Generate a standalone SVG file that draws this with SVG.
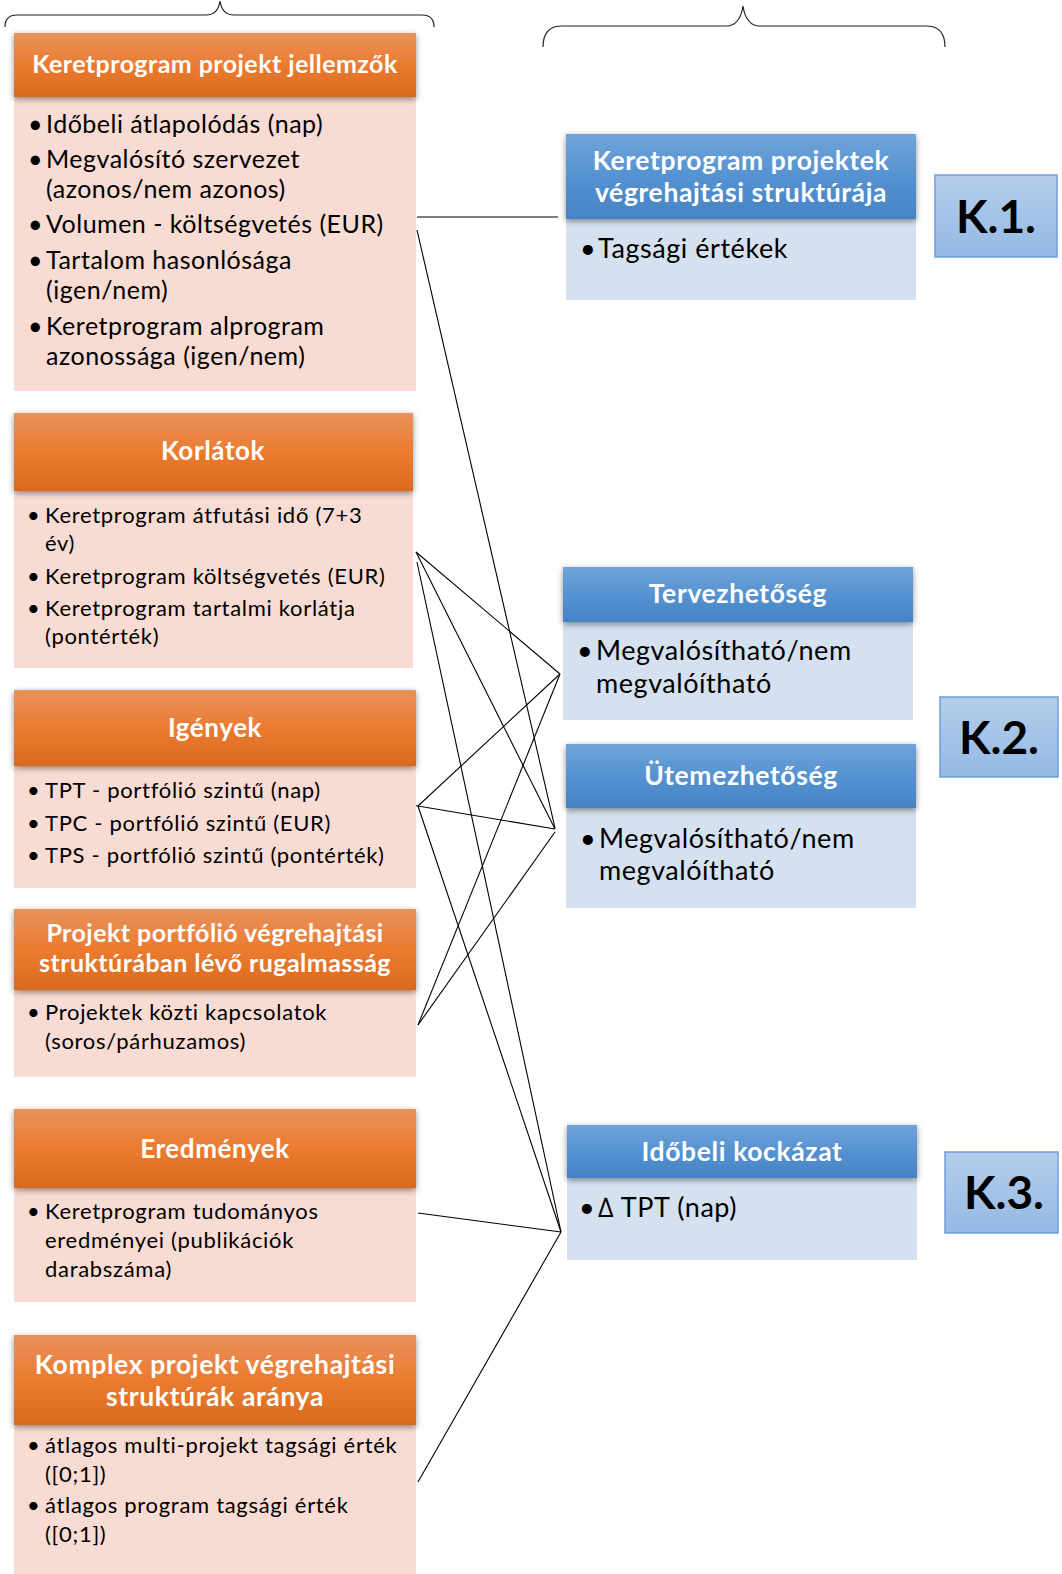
<svg xmlns="http://www.w3.org/2000/svg" width="1062" height="1574" viewBox="0 0 1062 1574">
  <defs>
    <linearGradient id="orangeHead" x1="0" y1="0" x2="0" y2="1">
      <stop offset="0" stop-color="#E8925C"/>
      <stop offset="0.5" stop-color="#EB7B30"/>
      <stop offset="1" stop-color="#D96A1E"/>
    </linearGradient>
    <linearGradient id="blueHead" x1="0" y1="0" x2="0" y2="1">
      <stop offset="0" stop-color="#70A4D9"/>
      <stop offset="0.5" stop-color="#5592D1"/>
      <stop offset="1" stop-color="#4683C2"/>
    </linearGradient>
    <linearGradient id="kFill" x1="0" y1="0" x2="0" y2="1">
      <stop offset="0" stop-color="#B5CEEB"/>
      <stop offset="1" stop-color="#94B9E4"/>
    </linearGradient>
    <filter id="shadow" x="-10%" y="-20%" width="120%" height="150%">
      <feGaussianBlur in="SourceAlpha" stdDeviation="3"/>
      <feOffset dx="0" dy="2" result="b"/>
      <feComponentTransfer><feFuncA type="linear" slope="0.45"/></feComponentTransfer>
      <feMerge><feMergeNode/><feMergeNode in="SourceGraphic"/></feMerge>
    </filter>
  </defs>
  <style>
    .obody { fill: #F8DBD2; }
    .bbody { fill: #D5E1EF; }
    .ohead { fill: url(#orangeHead); filter: url(#shadow); }
    .bhead { fill: url(#blueHead); filter: url(#shadow); }
    .kbox { fill: url(#kFill); stroke: #6F9FD8; stroke-width: 1.5; }
    .htxt { font-family: Lato, "Open Sans", sans-serif; font-weight: bold; fill: #FFFFFF; text-anchor: middle; }
    .h24 { font-size: 25px; letter-spacing: 0.45px; }
    .h25 { font-size: 26px; letter-spacing: 0.6px; }
    .h26 { font-size: 26.5px; letter-spacing: 0.62px; }
    .t24 { font-family: Lato, "Open Sans", sans-serif; font-size: 25px; letter-spacing: 0.5px; fill: #000000; }
    .t21 { font-family: Lato, "Open Sans", sans-serif; font-size: 22px; letter-spacing: 0.7px; fill: #000000; }
    .t26 { font-family: Lato, "Open Sans", sans-serif; font-size: 27px; letter-spacing: 0.55px; fill: #000000; }
    .ktxt { font-family: Lato, "Open Sans", sans-serif; font-weight: bold; font-size: 46px; fill: #000000; text-anchor: middle; }
    .brace { fill: none; stroke: #222222; stroke-width: 1.2; }
    .conn line { stroke: #000000; stroke-width: 1.1; }
  </style>

  <rect width="1062" height="1574" fill="#FFFFFF"/>

  <!-- group braces -->
  <g id="braces">
    <path class="brace" d="M5,27 Q5,15 17,15 L206,15 Q218,15 220,1 Q222,15 234,15 L422,15 Q434,15 434,27"/>
    <path class="brace" d="M543,47 Q543,26 562,26 L726,26 Q740,26 743,6 Q746,26 760,26 L926,26 Q945,26 945,47"/>
  </g>

  <!-- connectors -->
  <g id="connectors" class="conn">
    <line x1="417" y1="217" x2="558" y2="217"/>
    <line x1="417" y1="230" x2="555" y2="828"/>
    <line x1="416" y1="552" x2="560" y2="674"/>
    <line x1="416" y1="552" x2="555" y2="829"/>
    <line x1="417" y1="562" x2="561" y2="1232"/>
    <line x1="560" y1="674" x2="418" y2="806"/>
    <line x1="560" y1="674" x2="418" y2="1025"/>
    <line x1="412" y1="805" x2="555" y2="829"/>
    <line x1="418" y1="806" x2="561" y2="1232"/>
    <line x1="555" y1="832" x2="418" y2="1025"/>
    <line x1="418" y1="1213" x2="561" y2="1232"/>
    <line x1="418" y1="1482" x2="561" y2="1232"/>
  </g>

  <!-- left column -->
  <g id="node-jellemzok">
    <rect class="obody" x="14" y="97" width="402" height="294"/>
    <rect class="ohead" x="14" y="33" width="402" height="64"/>
    <text class="htxt h24" x="215" y="73">Keretprogram projekt jellemzők</text>
    <text class="t24" x="28" y="133">•</text><text class="t24" x="46" y="133">Időbeli átlapolódás (nap)</text>
    <text class="t24" x="28" y="168">•</text><text class="t24" x="46" y="168">Megvalósító szervezet</text>
    <text class="t24" x="46" y="198">(azonos/nem azonos)</text>
    <text class="t24" x="28" y="233">•</text><text class="t24" x="46" y="233">Volumen - költségvetés (EUR)</text>
    <text class="t24" x="28" y="269">•</text><text class="t24" x="46" y="269">Tartalom hasonlósága</text>
    <text class="t24" x="46" y="299">(igen/nem)</text>
    <text class="t24" x="28" y="335">•</text><text class="t24" x="46" y="335">Keretprogram alprogram</text>
    <text class="t24" x="46" y="365">azonossága (igen/nem)</text>
  </g>

  <g id="node-korlatok">
    <rect class="obody" x="14" y="491" width="399" height="177"/>
    <rect class="ohead" x="14" y="413" width="399" height="78"/>
    <text class="htxt h25" x="213" y="460">Korlátok</text>
    <text class="t21" x="27" y="523">•</text><text class="t21" x="45" y="523">Keretprogram átfutási idő (7+3</text>
    <text class="t21" x="45" y="551">év)</text>
    <text class="t21" x="27" y="584">•</text><text class="t21" x="45" y="584">Keretprogram költségvetés (EUR)</text>
    <text class="t21" x="27" y="616">•</text><text class="t21" x="45" y="616">Keretprogram tartalmi korlátja</text>
    <text class="t21" x="45" y="644">(pontérték)</text>
  </g>

  <g id="node-igenyek">
    <rect class="obody" x="14" y="766" width="402" height="122"/>
    <rect class="ohead" x="14" y="690" width="402" height="76"/>
    <text class="htxt h25" x="215" y="737">Igények</text>
    <text class="t21" x="27" y="798">•</text><text class="t21" x="45" y="798">TPT - portfólió szintű (nap)</text>
    <text class="t21" x="27" y="831">•</text><text class="t21" x="45" y="831">TPC - portfólió szintű (EUR)</text>
    <text class="t21" x="27" y="863">•</text><text class="t21" x="45" y="863">TPS - portfólió szintű (pontérték)</text>
  </g>

  <g id="node-rugalmassag">
    <rect class="obody" x="14" y="990" width="402" height="87"/>
    <rect class="ohead" x="14" y="909" width="402" height="81"/>
    <text class="htxt h24" x="215" y="942">Projekt portfólió végrehajtási</text>
    <text class="htxt h24" x="215" y="972">struktúrában lévő rugalmasság</text>
    <text class="t21" x="27" y="1020">•</text><text class="t21" x="45" y="1020">Projektek közti kapcsolatok</text>
    <text class="t21" x="45" y="1049">(soros/párhuzamos)</text>
  </g>

  <g id="node-eredmenyek">
    <rect class="obody" x="14" y="1188" width="402" height="114"/>
    <rect class="ohead" x="14" y="1109" width="402" height="79"/>
    <text class="htxt h25" x="215" y="1158">Eredmények</text>
    <text class="t21" x="27" y="1219">•</text><text class="t21" x="45" y="1219">Keretprogram tudományos</text>
    <text class="t21" x="45" y="1248">eredményei (publikációk</text>
    <text class="t21" x="45" y="1277">darabszáma)</text>
  </g>

  <g id="node-komplex">
    <rect class="obody" x="14" y="1425" width="402" height="149"/>
    <rect class="ohead" x="14" y="1335" width="402" height="90"/>
    <text class="htxt h26" x="215" y="1374">Komplex projekt végrehajtási</text>
    <text class="htxt h26" x="215" y="1406">struktúrák aránya</text>
    <text class="t21" x="27" y="1453">•</text><text class="t21" x="45" y="1453">átlagos multi-projekt tagsági érték</text>
    <text class="t21" x="45" y="1482">([0;1])</text>
    <text class="t21" x="27" y="1513">•</text><text class="t21" x="45" y="1513">átlagos program tagsági érték</text>
    <text class="t21" x="45" y="1542">([0;1])</text>
  </g>

  <!-- right column -->
  <g id="node-struktura">
    <rect class="bbody" x="566" y="219" width="350" height="81"/>
    <rect class="bhead" x="566" y="134" width="350" height="85"/>
    <text class="htxt h26" x="741" y="170">Keretprogram projektek</text>
    <text class="htxt h26" x="741" y="202">végrehajtási struktúrája</text>
    <text class="t26" x="580" y="258">•</text><text class="t26" x="598" y="258">Tagsági értékek</text>
  </g>

  <g id="node-tervezhetoseg">
    <rect class="bbody" x="563" y="622" width="350" height="98"/>
    <rect class="bhead" x="563" y="567" width="350" height="55"/>
    <text class="htxt h26" x="738" y="603">Tervezhetőség</text>
    <text class="t26" x="577" y="660">•</text><text class="t26" x="596" y="660">Megvalósítható/nem</text>
    <text class="t26" x="596" y="693">megvalóítható</text>
  </g>

  <g id="node-utemezhetoseg">
    <rect class="bbody" x="566" y="808" width="350" height="100"/>
    <rect class="bhead" x="566" y="744" width="350" height="64"/>
    <text class="htxt h26" x="741" y="785">Ütemezhetőség</text>
    <text class="t26" x="580" y="848">•</text><text class="t26" x="599" y="848">Megvalósítható/nem</text>
    <text class="t26" x="599" y="880">megvalóítható</text>
  </g>

  <g id="node-kockazat">
    <rect class="bbody" x="567" y="1178" width="350" height="82"/>
    <rect class="bhead" x="567" y="1125" width="350" height="53"/>
    <text class="htxt h26" x="742" y="1161">Időbeli kockázat</text>
    <text class="t26" x="579" y="1217">•</text><text class="t26" x="598" y="1217">∆ TPT (nap)</text>
  </g>

  <!-- criterion labels -->
  <g id="label-k1">
    <rect class="kbox" x="935" y="175" width="122" height="82"/>
    <text class="ktxt" x="996" y="233">K.1.</text>
  </g>
  <g id="label-k2">
    <rect class="kbox" x="940" y="697" width="118" height="80"/>
    <text class="ktxt" x="999" y="754">K.2.</text>
  </g>
  <g id="label-k3">
    <rect class="kbox" x="945" y="1152" width="113" height="81"/>
    <text class="ktxt" x="1004" y="1209">K.3.</text>
  </g>
</svg>
